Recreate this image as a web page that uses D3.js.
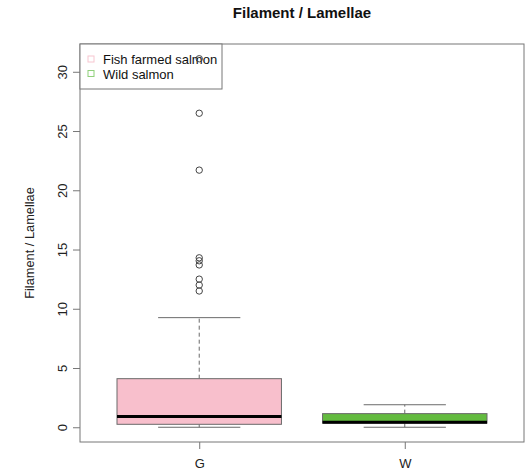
<!DOCTYPE html>
<html>
<head>
<meta charset="utf-8">
<script src="https://cdn.jsdelivr.net/npm/d3@7/dist/d3.min.js"></script>
<style>
  body { margin: 0; background: #fff; }
  svg { display: block; font-family: "Liberation Sans", Arial, sans-serif; }
</style>
</head>
<body>
<svg id="chart" width="529" height="475"></svg>
<script>
// Groups and their box-plot summaries (Filament / Lamellae ratio)
const groups = ["G", "W"];
const legendLabels = ["Fish farmed salmon", "Wild salmon"];
const fills = ["#F8BFCC", "#63BB3F"];
const legendStrokes = ["#F7C6D0", "#8FD07A"];
const lowerWhisker = [0, 0];
const q1 = [0.25, 0.35];
const median = [0.9, 0.42];
const q3 = [4.1, 1.15];
const upperWhisker = [9.25, 1.9];
const outliersG = [31.1, 26.5, 21.7, 14.3, 14.05, 13.7, 12.5, 12.0, 11.5];
const outliersW = [];
const outliers = [outliersG, outliersW];
const yTicks = [0, 5, 10, 15, 20, 25, 30];
const title = "Filament / Lamellae";
const yLabel = "Filament / Lamellae";

const svg = d3.select("#chart");
const plot = { left: 80, right: 524, top: 44, bottom: 442 };

// R-style 4% padding around the data range
const allVals = lowerWhisker.concat(upperWhisker, outliersG, outliersW);
const yMin = d3.min(allVals), yMax = d3.max(allVals);
const pad = (yMax - yMin) * 0.04;
const y = d3.scaleLinear().domain([yMin - pad, yMax + pad]).range([plot.bottom, plot.top]);
const x = d3.scaleLinear().domain([0.5 - 0.08, groups.length + 0.5 + 0.08]).range([plot.left, plot.right]);

const boxHalf = 0.4, stapleHalf = 0.2;
const lineCol = "#6a6a6a";

groups.forEach((g, i) => {
  const cx = i + 1;
  const grp = svg.append("g");
  // dashed whiskers
  grp.append("line")
    .attr("x1", x(cx)).attr("x2", x(cx))
    .attr("y1", y(q3[i])).attr("y2", y(upperWhisker[i]))
    .attr("stroke", lineCol).attr("stroke-dasharray", "4,3");
  grp.append("line")
    .attr("x1", x(cx)).attr("x2", x(cx))
    .attr("y1", y(q1[i])).attr("y2", y(lowerWhisker[i]))
    .attr("stroke", lineCol).attr("stroke-dasharray", "4,3");
  // staples
  [upperWhisker[i], lowerWhisker[i]].forEach(v => {
    grp.append("line")
      .attr("x1", x(cx - stapleHalf)).attr("x2", x(cx + stapleHalf))
      .attr("y1", y(v)).attr("y2", y(v))
      .attr("stroke", lineCol);
  });
  // box
  grp.append("rect")
    .attr("x", x(cx - boxHalf)).attr("width", x(cx + boxHalf) - x(cx - boxHalf))
    .attr("y", y(q3[i])).attr("height", y(q1[i]) - y(q3[i]))
    .attr("fill", fills[i]).attr("stroke", lineCol);
  // median
  grp.append("line")
    .attr("x1", x(cx - boxHalf)).attr("x2", x(cx + boxHalf))
    .attr("y1", y(median[i])).attr("y2", y(median[i]))
    .attr("stroke", "#000").attr("stroke-width", 3);
  // outliers
  grp.selectAll("circle").data(outliers[i]).enter().append("circle")
    .attr("cx", x(cx)).attr("cy", d => y(d)).attr("r", 3.2)
    .attr("fill", "none").attr("stroke", "#444").attr("stroke-width", 1);
});

// plot frame
svg.append("rect")
  .attr("x", plot.left).attr("y", plot.top)
  .attr("width", plot.right - plot.left).attr("height", plot.bottom - plot.top)
  .attr("fill", "none").attr("stroke", "#777");

// y axis, labels rotated parallel to the axis
const yAxis = d3.axisLeft(y).tickValues(yTicks).tickSize(7).tickPadding(10);
const ya = svg.append("g").attr("transform", `translate(${plot.left},0)`).call(yAxis);
ya.select(".domain").remove();
ya.selectAll(".tick line").attr("stroke", "#777");
ya.selectAll(".tick text")
  .attr("font-size", 13).attr("fill", "#222")
  .attr("transform", "translate(-18,0) rotate(-90)")
  .attr("x", 0).attr("y", 0).attr("dy", "0.35em")
  .attr("text-anchor", "middle");

// x axis
const xAxis = d3.axisBottom(x).tickValues(groups.map((g, i) => i + 1))
  .tickFormat((d, i) => groups[i]).tickSize(7).tickPadding(10);
const xa = svg.append("g").attr("transform", `translate(0,${plot.bottom})`).call(xAxis);
xa.select(".domain").remove();
xa.selectAll(".tick line").attr("stroke", "#777");
xa.selectAll(".tick text").attr("font-size", 13).attr("fill", "#222");

// title
svg.append("text")
  .attr("x", (plot.left + plot.right) / 2).attr("y", 18)
  .attr("text-anchor", "middle").attr("font-size", 15).attr("font-weight", "bold")
  .attr("fill", "#111").text(title);

// y label
svg.append("text")
  .attr("transform", `translate(34,${(plot.top + plot.bottom) / 2}) rotate(-90)`)
  .attr("text-anchor", "middle").attr("font-size", 12.8).attr("fill", "#222")
  .text(yLabel);

// legend
const lg = svg.append("g");
lg.append("rect")
  .attr("x", plot.left).attr("y", plot.top)
  .attr("width", 142).attr("height", 45)
  .attr("fill", "#fff").attr("stroke", "#777");
legendLabels.forEach((lab, i) => {
  const cy = 59.5 + i * 14.5;
  lg.append("rect")
    .attr("x", 88).attr("y", cy - 3.5).attr("width", 6).attr("height", 6)
    .attr("fill", "none").attr("stroke", legendStrokes[i]);
  lg.append("text")
    .attr("x", 103).attr("y", cy).attr("dy", "0.35em")
    .attr("font-size", 13).attr("fill", "#111").text(lab);
});
// the top outlier sits on top of the legend box
svg.append("circle")
  .attr("cx", x(1)).attr("cy", y(outliersG[0])).attr("r", 3.2)
  .attr("fill", "none").attr("stroke", "#444");
</script>
</body>
</html>
